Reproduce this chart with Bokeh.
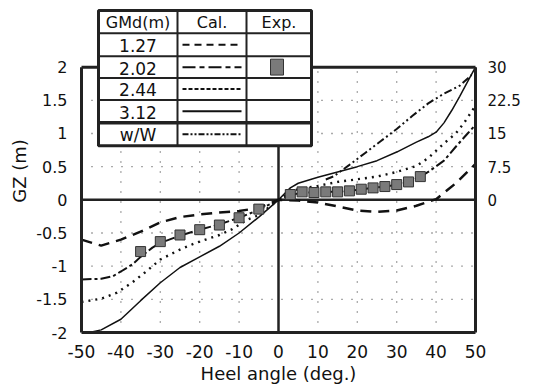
from bokeh.plotting import figure
from bokeh.models import (Range1d, LinearAxis, FixedTicker, CustomJSTickFormatter,
                          BoxAnnotation, Label, Arrow)
from bokeh.embed import file_html
from bokeh.resources import INLINE

# ---------------- data ----------------
x_ticks = [-50, -40, -30, -20, -10, 0, 10, 20, 30, 40, 50]
y_ticks = [-2, -1.5, -1, -0.5, 0, 0.5, 1, 1.5, 2]
y2_ticks = [0, 7.5, 15, 22.5, 30]

# GMd = 1.27 m (calculated)
x_127 = [-50, -45, -40, -35, -30, -25, -20, -15, -10, -5, 0,
         5, 10, 15, 20, 25, 30, 35, 40, 45, 50]
y_127 = [-0.60, -0.69, -0.60, -0.48, -0.34, -0.26, -0.22, -0.19, -0.17, -0.12, 0.0,
         -0.01, -0.04, -0.10, -0.16, -0.18, -0.16, -0.09, 0.01, 0.25, 0.54]

# GMd = 2.02 m (calculated)
x_202 = [-50, -45, -42, -40, -37, -35, -32, -30, -25, -20, -15, -10, -5, 0,
         3, 6, 9, 12, 15, 18, 21, 24, 27, 30, 33, 36, 38, 42, 45, 48, 50]
y_202 = [-1.20, -1.19, -1.15, -1.08, -0.97, -0.86, -0.72, -0.65, -0.54, -0.45, -0.37, -0.27, -0.15, 0.0,
         0.07, 0.11, 0.11, 0.12, 0.12, 0.135, 0.16, 0.18, 0.20, 0.225, 0.27, 0.35, 0.42, 0.59, 0.80, 1.00, 1.13]

# GMd = 2.02 m (experiment)
x_exp = [-35, -30, -25, -20, -15, -10, -5, 3, 6, 9, 12, 15, 18, 21, 24, 27, 30, 33, 36]
y_exp = [-0.78, -0.63, -0.53, -0.45, -0.38, -0.27, -0.14, 0.08, 0.12, 0.11, 0.12, 0.12, 0.135,
         0.16, 0.18, 0.20, 0.23, 0.27, 0.35]

# GMd = 2.44 m (calculated)
x_244 = [-50, -45, -41, -37, -34, -30, -25, -21, -15, -12, -8, -5, 0,
         3, 5, 10, 15, 20, 25, 30, 35, 38, 40, 42, 45, 47, 50]
y_244 = [-1.54, -1.49, -1.40, -1.24, -1.10, -0.90, -0.75, -0.65, -0.53, -0.45, -0.30, -0.23, 0.0,
         0.12, 0.16, 0.21, 0.27, 0.31, 0.35, 0.42, 0.51, 0.63, 0.74, 0.85, 1.00, 1.15, 1.42]

# GMd = 3.12 m (calculated)
x_312 = [-48, -45, -40, -35, -30, -25, -20, -15, -10, -5, 0,
         3, 5, 10, 15, 20, 25, 30, 35, 38, 40, 42, 44, 46, 48, 50]
y_312 = [-2.0, -1.96, -1.80, -1.52, -1.25, -1.02, -0.86, -0.70, -0.50, -0.26, 0.0,
         0.18, 0.25, 0.34, 0.42, 0.50, 0.59, 0.72, 0.87, 0.95, 1.02, 1.16, 1.35, 1.56, 1.78, 2.0]

# w/W (right axis)
x_ww = [12, 14, 18, 22, 26, 30, 34, 38, 42, 46, 49]
y_ww = [4.6, 5.3, 7.9, 10.6, 13.3, 16.0, 19.0, 21.8, 24.0, 25.8, 28.2]

table_header = ["GMd(m)", "Cal.", "Exp."]
table_rows = ["1.27", "2.02", "2.44", "3.12", "w/W"]

# ---------------- layout ----------------
W, H = 543, 386
# pixel positions of the drawn plot box (x = -50..50, GZ = -2..2)
BL, BR, BT, BB = 81, 475, 67, 334
X0, X1, Y0, Y1 = -50, 50, -2, 2
RATIO = 15.0  # right axis units per GZ metre
FONT = "DejaVu Sans"
INK = "#111111"
FRAME = "#222222"

def dx(px):
    return X0 + (px - BL) * (X1 - X0) / (BR - BL)

def dy(py):
    return Y1 - (py - BT) * (Y1 - Y0) / (BB - BT)

# Bokeh frame (a bit larger than the drawn box, so the table above fits)
FL, FR, FT, FB = 78, 478, 6, 337

p = figure(width=W, height=H,
           x_range=Range1d(dx(FL), dx(FR)), y_range=Range1d(dy(FB), dy(FT)),
           output_backend="svg", toolbar_location=None,
           min_border_left=FL, min_border_right=W - FR, min_border_top=FT,
           min_border_bottom=H - FB,
           x_axis_label="Heel angle (deg.)", y_axis_label="GZ (m)")
p.extra_y_ranges = {"ww": Range1d(dy(FB) * RATIO, dy(FT) * RATIO)}
p.background_fill_color = "white"
p.border_fill_color = "white"
p.outline_line_color = None
p.xgrid.visible = False
p.ygrid.visible = False

fmt = "return String(tick)"
p.xaxis.ticker = FixedTicker(ticks=x_ticks)
p.yaxis.ticker = FixedTicker(ticks=y_ticks)
p.xaxis.formatter = CustomJSTickFormatter(code=fmt)
p.yaxis.formatter = CustomJSTickFormatter(code=fmt)

ax2 = LinearAxis(y_range_name="ww", ticker=FixedTicker(ticks=y2_ticks),
                 formatter=CustomJSTickFormatter(code=fmt))
p.add_layout(ax2, "right")

for ax in [p.xaxis[0], p.yaxis[0], ax2]:
    ax.axis_line_color = None
    ax.major_tick_line_color = None
    ax.minor_tick_line_color = None
    ax.major_label_text_font = FONT
    ax.major_label_text_color = INK
    ax.axis_label_text_font = FONT
    ax.axis_label_text_font_style = "normal"
    ax.axis_label_text_color = INK

p.xaxis.major_label_text_font_size = "17px"
p.yaxis.major_label_text_font_size = "16px"
ax2.major_label_text_font_size = "15px"
p.xaxis.major_label_standoff = 3
p.yaxis.major_label_standoff = 5
ax2.major_label_standoff = 3
p.xaxis.axis_label_text_font_size = "18px"
p.yaxis.axis_label_text_font_size = "18px"
p.xaxis.axis_label_standoff = 2
p.yaxis.axis_label_standoff = 3

# dotted grid inside the box
gx = [t for t in x_ticks if t not in (X0, 0, X1)]
gy = [t for t in y_ticks if t not in (Y0, 0, Y1)]
p.segment(x0=gx, y0=[Y0] * len(gx), x1=gx, y1=[Y1] * len(gx),
          line_color="#555555", line_dash="1 9", line_width=1.3)
p.segment(x0=[X0] * len(gy), y0=gy, x1=[X1] * len(gy), y1=gy,
          line_color="#555555", line_dash="1 9", line_width=1.3)

# zero axes
p.segment(x0=[0, X0], y0=[Y0, 0], x1=[0, X1], y1=[Y1, 0], line_color=FRAME, line_width=2.5)

# ---------------- curves ----------------
p.line(x_127, y_127, line_color=INK, line_width=2.5, line_dash="11 7")
p.line(x_202, y_202, line_color=INK, line_width=2, line_dash="10 3 3 3")
p.line(x_244, y_244, line_color=INK, line_width=2.4, line_dash="2 5")
p.line(x_312, y_312, line_color=INK, line_width=1.5)
p.line(x_ww, y_ww, line_color=INK, line_width=2, line_dash="8 3 2 3 2 3", y_range_name="ww")
p.scatter(x_exp, y_exp, marker="square", size=10, fill_color="#7a7a7a",
          line_color="#333333", line_width=1)

# box frame
p.segment(x0=[X0, X1, X0, X0], y0=[Y0, Y0, Y0, Y1], x1=[X0, X1, X1, X1], y1=[Y1, Y1, Y0, Y1],
          line_color=FRAME, line_width=3)

# ---------------- table legend ----------------
row_lines = [10, 33, 56, 78, 100, 123, 146]
col_lines = [98, 177, 246, 311]

p.add_layout(BoxAnnotation(left=dx(col_lines[0]), right=dx(col_lines[-1]),
                           top=dy(row_lines[0]), bottom=dy(row_lines[-1]),
                           fill_color="white", fill_alpha=1.0,
                           line_color=FRAME, line_width=3, line_alpha=1.0))
for i, ry in enumerate(row_lines[1:-1]):
    lw = 3.5 if i == len(row_lines) - 3 else 2
    p.add_layout(Arrow(end=None, x_start=dx(col_lines[0]), x_end=dx(col_lines[-1]),
                       y_start=dy(ry), y_end=dy(ry), line_color=FRAME, line_width=lw))
for cx in col_lines[1:-1]:
    p.add_layout(Arrow(end=None, x_start=dx(cx), x_end=dx(cx),
                       y_start=dy(row_lines[0]), y_end=dy(row_lines[-1]),
                       line_color=FRAME, line_width=2))

col_centers = [(col_lines[i] + col_lines[i + 1]) / 2 for i in range(3)]
row_centers = [(row_lines[i] + row_lines[i + 1]) / 2 for i in range(6)]

for txt, cx in zip(table_header, col_centers):
    p.add_layout(Label(x=dx(cx), y=dy(row_centers[0] + 1), text=txt, text_align="center",
                       text_baseline="middle", text_font=FONT, text_font_size="16px",
                       text_color=INK))
for txt, ry in zip(table_rows, row_centers[1:]):
    p.add_layout(Label(x=dx(col_centers[0]), y=dy(ry + 1), text=txt, text_align="center",
                       text_baseline="middle", text_font=FONT, text_font_size="17px",
                       text_color=INK))

samples = [("7 5", 2.2), ("13 4 5 4", 2.0), ("4 2", 2.0), (None, 2.0), ("6 2 2 2 2 2", 2.0)]
for (dash, lw), ry in zip(samples, row_centers[1:]):
    kw = dict(end=None, x_start=dx(182), x_end=dx(241), y_start=dy(ry), y_end=dy(ry),
              line_color=INK, line_width=lw)
    if dash:
        kw["line_dash"] = dash
    p.add_layout(Arrow(**kw))

p.add_layout(BoxAnnotation(left=dx(270), right=dx(283), top=dy(59), bottom=dy(75),
                           fill_color="#7a7a7a", fill_alpha=1.0,
                           line_color="#333333", line_width=1, line_alpha=1.0))

open("out.html", "w").write(file_html(p, INLINE))
